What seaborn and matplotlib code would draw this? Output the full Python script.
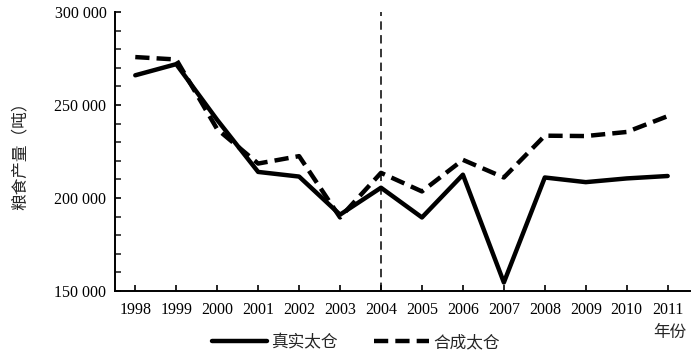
import matplotlib
matplotlib.use("Agg")
import matplotlib.pyplot as plt
import matplotlib.ticker as mticker
import seaborn as sns
import pandas as pd

# data
years = list(range(1998, 2012))
real_taicang = [266000, 272000, 242000, 214000, 211500, 191000, 205500,
                189500, 212500, 154500, 211000, 208500, 210500, 211800]
synth_taicang = [275800, 274500, 237000, 218500, 222500, 189500, 213500,
                 203500, 220500, 211000, 233500, 233300, 235500, 244000]
treat_year = 2004

df = pd.DataFrame({"year": years, "real": real_taicang, "synth": synth_taicang})

sns.set_style("ticks")
plt.rcParams["font.family"] = ["Liberation Serif", "Noto Sans CJK SC", "DejaVu Sans"]
cjk = ["Noto Sans CJK SC", "DejaVu Sans"]

fig = plt.figure(figsize=(7, 3.56), dpi=100)
ax = fig.add_axes([0.164, 0.183, 0.822, 0.783])

sns.lineplot(data=df, x="year", y="real", ax=ax, color="black", lw=3.2,
             label="真实太仓")
sns.lineplot(data=df, x="year", y="synth", ax=ax, color="black", lw=3.2,
             linestyle=(0, (3.2, 1.6)), label="合成太仓")
ax.axvline(treat_year, color="black", lw=1.1, linestyle=(0, (5.5, 3.5)))

ax.set_xlim(1997.5, 2011.55)
ax.set_ylim(150000, 300000)
ax.set_xticks(years)
ax.yaxis.set_major_locator(mticker.MultipleLocator(50000))
ax.yaxis.set_minor_locator(mticker.MultipleLocator(10000))
ax.yaxis.set_major_formatter(mticker.FuncFormatter(lambda v, p: f"{int(v):,}".replace(",", " ")))
ax.tick_params(axis="both", direction="in", length=4, width=1.2, labelsize=11.5, colors="black")
ax.tick_params(axis="x", pad=8)
ax.tick_params(axis="y", pad=6)
ax.tick_params(axis="y", which="minor", direction="in", length=4, width=1.2)
for s in ["left", "bottom"]:
    ax.spines[s].set_linewidth(1.4)
    ax.spines[s].set_color("black")
sns.despine(ax=ax)

ax.set_xlabel("")
ax.set_ylabel("粮食产量（吨）", family=cjk, fontsize=12)
ax.yaxis.set_label_coords(-0.15, 0.5)
fig.text(0.957, 0.067, "年份", family=cjk, fontsize=12, ha="center", va="center")

ax.get_legend().remove()
h, l = ax.get_legend_handles_labels()
leg = fig.legend(h, l, loc="center", bbox_to_anchor=(0.508, 0.037), ncol=2,
                 frameon=False, handlelength=3.3, handletextpad=0.25,
                 columnspacing=2.2, prop={"family": cjk, "size": 12})

fig.savefig("out.png", dpi=100)
